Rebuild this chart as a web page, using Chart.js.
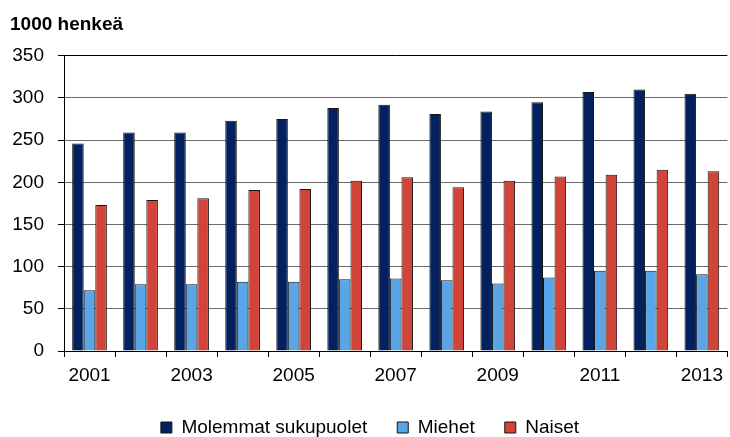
<!DOCTYPE html>
<html>
<head>
<meta charset="utf-8">
<script src="https://cdn.jsdelivr.net/npm/chart.js@4"></script>
<style>
  html, body { margin: 0; padding: 0; background: #fff; }
  #wrap { width: 730px; height: 437px; }
</style>
</head>
<body>
<div id="wrap"><canvas id="henkeaChart" width="730" height="437"></canvas></div>
<script>
// Data (1000 persons)
const years = ['2001', '2002', '2003', '2004', '2005', '2006', '2007', '2008', '2009', '2010', '2011', '2012', '2013'];
const molemmat = [246, 259, 259, 273, 275, 288, 292, 281, 284, 295, 307, 310, 305];
const miehet = [72, 79, 79, 82, 82, 85, 86, 84, 80, 87, 95, 95, 91];
const naiset = [173, 179, 181, 191, 192, 202, 206, 194, 202, 207, 209, 215, 213];
const yTicks = [0, 50, 100, 150, 200, 250, 300, 350];

const FONT = "'Liberation Sans', Arial, sans-serif";

// Legend box is capped in height; pull its top up so the items sit like the original
const legendShift = {
    id: 'legendShift',
    afterLayout(chart) {
        const l = chart.legend;
        if (l) {
            l.top -= 9;
            l.height += 9;
        }
    }
};

const ctx = document.getElementById('henkeaChart');
const chart = new Chart(ctx, {
    type: 'bar',
    data: {
        labels: years,
        datasets: [{
            label: 'Molemmat sukupuolet',
            data: molemmat,
            backgroundColor: '#03215e',
            borderColor: '#151515',
            borderWidth: 1
        }, {
            label: 'Miehet',
            data: miehet,
            backgroundColor: '#5aa5e8',
            borderColor: '#151515',
            borderWidth: 1
        }, {
            label: 'Naiset',
            data: naiset,
            backgroundColor: '#d2443a',
            borderColor: '#151515',
            borderWidth: 1
        }]
    },
    options: {
        responsive: false,
        animation: false,
        events: [],
        layout: {
            padding: { left: 10, right: 0, top: 0, bottom: 0 }
        },
        datasets: {
            bar: {
                barPercentage: 1,
                categoryPercentage: 0.68
            }
        },
        plugins: {
            title: {
                display: true,
                text: '1000 henkeä',
                align: 'start',
                color: '#000',
                font: { family: FONT, size: 19, weight: 'bold' },
                padding: { top: 13, bottom: 20 }
            },
            legend: {
                position: 'bottom',
                maxHeight: 40,
                labels: {
                    boxWidth: 11,
                    boxHeight: 11,
                    padding: 30,
                    color: '#000',
                    font: { family: FONT, size: 19 }
                }
            },
            tooltip: { enabled: false }
        },
        scales: {
            x: {
                offset: true,
                grid: {
                    offset: true,
                    drawOnChartArea: false,
                    drawTicks: true,
                    tickLength: 6,
                    tickColor: '#000'
                },
                border: { color: '#000', width: 1 },
                ticks: {
                    autoSkip: false,
                    maxRotation: 0,
                    padding: 7,
                    color: '#000',
                    font: { family: FONT, size: 19 },
                    callback: function(value, index) {
                        return index % 2 === 0 ? years[index] : '';
                    }
                },
                afterFit: function(scale) {
                    scale.height = 46;
                }
            },
            y: {
                min: 0,
                max: 350,
                afterBuildTicks: function(scale) {
                    scale.ticks = yTicks.map(v => ({ value: v }));
                },
                grid: {
                    color: function(c) {
                        return c.tick && c.tick.value === 350 ? '#000' : '#6a6a6a';
                    },
                    tickLength: 6,
                    tickColor: '#000'
                },
                border: { color: '#000', width: 1 },
                ticks: {
                    padding: 14,
                    color: '#000',
                    font: { family: FONT, size: 19 }
                },
                afterFit: function(scale) {
                    scale.width = 54;
                }
            }
        }
    },
    plugins: [legendShift]
});
</script>
</body>
</html>
